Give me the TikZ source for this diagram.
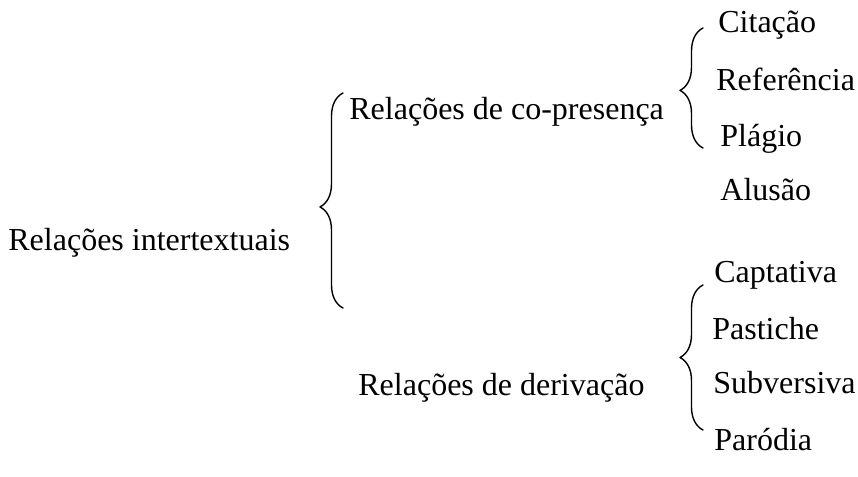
\documentclass[tikz,border=0pt]{standalone}
\usepackage{fontspec}
\setmainfont{Liberation Serif}
\newfontfamily\timesfont{Liberation Serif}
\usetikzlibrary{decorations.pathreplacing}

\tikzset{
  label text/.style={anchor=base west, inner sep=0pt, font=\timesfont\fontsize{16}{19}\selectfont},
  curly/.style={decorate, decoration={brace, amplitude=11.5pt, aspect=#1}, line width=0.7pt}
}

\begin{document}
\begin{tikzpicture}[x=0.5pt, y=-0.5pt, line join=round, line cap=round]
				% Fix the page (pixel units, y downwards)
				\useasboundingbox (0,0) rectangle (858,477);
				
				% Define brace ends
				\coordinate (BigBot) at (343,308);  % Bottom of main brace
				\coordinate (BigTop) at (343,93);   % Top of main brace
				\coordinate (CoBot) at (703,148);   % Bottom of co-presence brace
				\coordinate (CoTop) at (703,28);    % Top of co-presence brace
				\coordinate (DerBot) at (703,430);  % Bottom of derivation brace
				\coordinate (DerTop) at (703,285);  % Top of derivation brace
				
				% Root and the two branches
				\node[label text] (root) at (8,250) {Relações intertextuais};
				\node[label text] (copres) at (349,119) {Relações de co-presença};
				\node[label text] (deriv) at (358,395) {Relações de derivação};
				
				% Leaves of co-presence
				\node[label text] (cit) at (718,32) {Citação};
				\node[label text] (ref) at (716,90) {Referência};
				\node[label text] (plag) at (720,146) {Plágio};
				\node[label text] (alu) at (720,200) {Alusão};
				
				% Leaves of derivation
				\node[label text] (capt) at (714,282) {Captativa};
				\node[label text] (past) at (712,339) {Pastiche};
				\node[label text] (subv) at (713,393) {Subversiva};
				\node[label text] (paro) at (714,450) {Paródia};
				
				% Draw the braces
				\draw[curly=0.47] (BigBot) -- (BigTop);
				\draw[curly=0.48] (CoBot) -- (CoTop);
				\draw[curly=0.5] (DerBot) -- (DerTop);
			\end{tikzpicture}
\end{document}
